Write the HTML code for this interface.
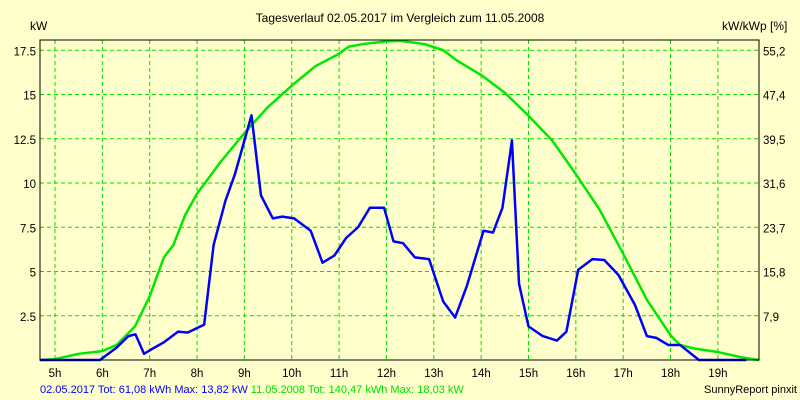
<!DOCTYPE html>
<html><head><meta charset="utf-8"><style>
body{margin:0;background:#ffffcc;}
svg{display:block;font-family:"Liberation Sans",sans-serif;}
</style></head><body>
<svg id="chart" width="800" height="400">
<rect x="0" y="0" width="800" height="400" fill="#ffffcc"/>
<text x="400" y="22" font-size="12" text-anchor="middle">Tagesverlauf 02.05.2017 im Vergleich zum 11.05.2008</text>
<text x="30" y="30" font-size="12">kW</text>
<text x="722" y="30" font-size="12">kW/kWp [%]</text>
<g id="grid"></g><g id="series"></g><g id="axes"></g>
<rect x="40" y="40" width="719" height="320" fill="none" stroke="#000" stroke-width="1"/>
<text x="40" y="393" font-size="11" fill="#0000ff">02.05.2017 Tot: 61,08 kWh Max: 13,82 kW <tspan fill="#00dd00">11.05.2008 Tot: 140,47 kWh Max: 18,03 kW</tspan></text>
<text x="797" y="393" font-size="11" text-anchor="end">SunnyReport pinxit</text>
</svg>
<script>
const hourTicks=[5,6,7,8,9,10,11,12,13,14,15,16,17,18,19];
const leftTicks=[2.5,5,7.5,10,12.5,15,17.5];
const leftLabels=["2.5","5","7.5","10","12.5","15","17.5"];
const rightLabels=["7,9","15,8","23,7","31,6","39,5","47,4","55,2"];
const blueHours=[4.68,5.95,6.3,6.55,6.7,6.88,7.1,7.3,7.6,7.8,8.15,8.35,8.6,8.8,9.15,9.35,9.6,9.8,10.05,10.4,10.65,10.9,11.15,11.4,11.65,11.95,12.15,12.35,12.6,12.9,13.2,13.45,13.7,14.05,14.25,14.45,14.65,14.8,15.0,15.3,15.6,15.8,16.05,16.35,16.6,16.9,17.25,17.5,17.7,17.95,18.2,18.6,19.6];
const blueValues=[0,0,0.7,1.35,1.45,0.35,0.7,1.0,1.6,1.55,2.0,6.5,9.0,10.5,13.82,9.3,8.0,8.1,8.0,7.3,5.5,5.9,6.9,7.5,8.6,8.6,6.7,6.6,5.8,5.7,3.3,2.4,4.2,7.3,7.2,8.6,12.4,4.3,1.9,1.35,1.1,1.6,5.1,5.7,5.65,4.8,3.1,1.35,1.25,0.85,0.85,0,0];
const greenHours=[4.68,5.0,5.5,6.0,6.3,6.69,7.0,7.3,7.5,7.75,8.0,8.5,8.9,9.16,9.5,10.0,10.5,11.0,11.2,11.5,12.0,12.3,12.8,13.2,13.5,14.0,14.5,15.0,15.5,16.0,16.5,17.0,17.5,18.0,18.2,18.5,19.0,19.5,19.87];
const greenValues=[0,0.05,0.35,0.5,0.85,1.9,3.6,5.8,6.5,8.2,9.4,11.2,12.5,13.3,14.3,15.5,16.6,17.3,17.7,17.85,18.0,18.03,17.85,17.5,16.9,16.1,15.1,13.8,12.4,10.5,8.5,6.0,3.4,1.4,0.85,0.65,0.45,0.15,0];
const NS="http://www.w3.org/2000/svg";
const xs=h=>55+(h-5)*47.35;
const ys=v=>360-v*17.7;
function mk(tag,attrs,parent){const e=document.createElementNS(NS,tag);for(const k in attrs)e.setAttribute(k,attrs[k]);parent.appendChild(e);return e;}
const grid=document.getElementById('grid'),axes=document.getElementById('axes'),series=document.getElementById('series');
hourTicks.forEach(h=>{
  const l=mk('line',{x1:xs(h),x2:xs(h),y1:40,y2:360,stroke:'#00dd00','stroke-dasharray':'4,3'},grid);
  
  
  const t=mk('text',{x:xs(h),y:377,'font-size':11.5,'text-anchor':'middle'},axes);
  t.textContent=h+'h';
  
  
});
leftTicks.forEach((v,i)=>{
  const l=mk('line',{x1:40,x2:759,y1:ys(v),y2:ys(v),stroke:'#00dd00','stroke-dasharray':'4,3'},grid);
  
  
  const t=mk('text',{x:36,y:ys(v)+5,'font-size':11.5,'text-anchor':'end'},axes);
  t.textContent=leftLabels[i];
  
  
  const r=mk('text',{x:763,y:ys(v)+5,'font-size':11.5},axes);
  r.textContent=rightLabels[i];
  
  
});
function line(hs,vs,color,name){
  const p=mk('polyline',{points:hs.map((h,i)=>xs(h)+','+ys(vs[i])).join(' '),fill:'none',stroke:color,'stroke-width':2.5,'stroke-linejoin':'round'},series);
  
  
}
line(greenHours,greenValues,'#00e800','series-2008');
line(blueHours,blueValues,'#0000ff','series-2017');
</script>
</body></html>
